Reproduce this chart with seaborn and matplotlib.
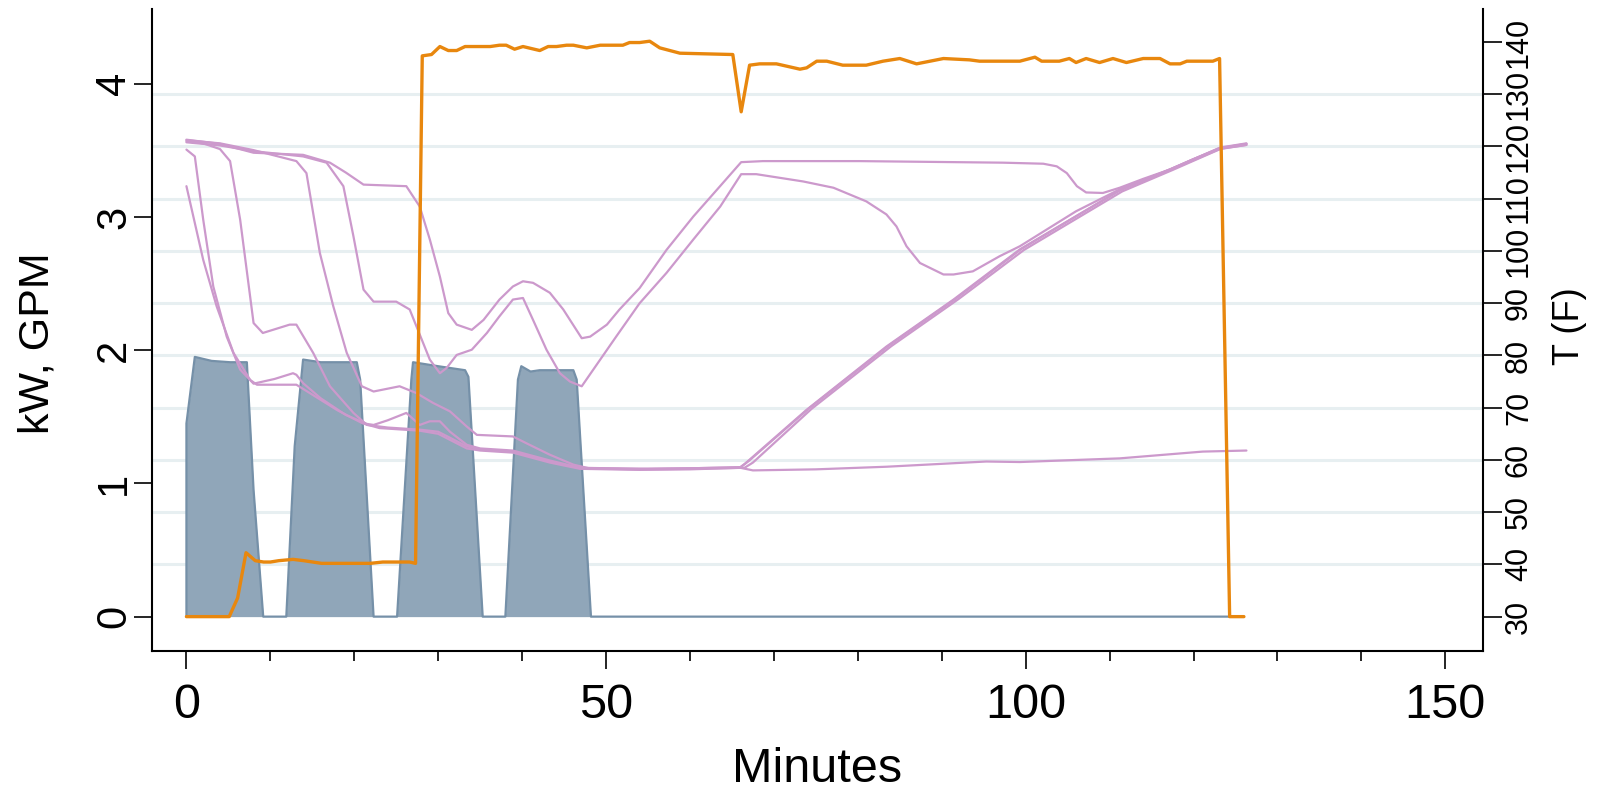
import numpy as np
import pandas as pd
import matplotlib
matplotlib.use("Agg")
import matplotlib.pyplot as plt
import matplotlib.transforms as mtransforms
from matplotlib.ticker import MultipleLocator, FixedLocator
import seaborn as sns

# ---- heater power (kW) - grey area, left axis
kw_min = [0, 0, 1.0, 3.0, 5.2, 7.2, 8.0, 9.15, 11.9, 12.9, 13.9, 16.0, 20.3, 20.7, 22.3,
          25.1, 26.8, 27.0, 30.0, 33.2, 33.6, 35.3, 38.0, 39.5, 39.9, 41.0, 42.1, 46.1,
          46.5, 48.2, 126.0]
kw_val = [0, 1.45, 1.95, 1.92, 1.91, 1.91, 0.95, 0, 0, 1.28, 1.93, 1.91, 1.91, 1.78, 0,
          0, 1.78, 1.91, 1.88, 1.85, 1.80, 0, 0, 1.78, 1.88, 1.84, 1.85, 1.85,
          1.78, 0, 0]

# ---- water flow (GPM) - orange line, left axis
flow_min = [0, 5.1, 6.1, 7.1, 8.2, 9.2, 10, 11, 12.7, 14, 16.1, 21.9, 23.4, 26.6, 27.3,
            28.1, 29.2, 30.2, 31.2, 32.2, 33.2, 36.2, 37.3, 38.1, 39.1, 40.1, 42.1, 43.1,
            44.1, 45.3, 46.1, 47.7, 49.3, 52.0, 52.8, 54.0, 55.2, 56.4, 58.8, 65.1, 66.1,
            67.1, 68.3, 70.3, 73.1, 73.9, 75.1, 76.3, 78.2, 81.0, 83.0, 85.0, 87.0, 90.2,
            93.3, 94.5, 99.3, 101.1, 101.9, 104.0, 105.2, 106.0, 107.2, 108.8, 110.4,
            112.0, 114.0, 116.0, 117.2, 118.4, 119.2, 122.3, 123.1, 124.3, 126.0]
flow_gpm = [0, 0, 0.14, 0.48, 0.42, 0.41, 0.41, 0.42, 0.43, 0.42, 0.40, 0.40, 0.41, 0.41, 0.40,
            4.21, 4.22, 4.28, 4.25, 4.25, 4.28, 4.28, 4.29, 4.29, 4.26, 4.28, 4.25, 4.28,
            4.28, 4.29, 4.29, 4.27, 4.29, 4.29, 4.31, 4.31, 4.32, 4.27, 4.23, 4.22, 3.79,
            4.14, 4.15, 4.15, 4.11, 4.12, 4.17, 4.17, 4.14, 4.14, 4.17, 4.19, 4.15, 4.19,
            4.18, 4.17, 4.17, 4.20, 4.17, 4.17, 4.19, 4.16, 4.19, 4.16, 4.19,
            4.16, 4.19, 4.19, 4.15, 4.15, 4.17, 4.17, 4.19, 0, 0]

# ---- tank temperatures (F) - purple lines, right axis
ta_min = [0, 4, 8, 13.9, 17.1, 19, 21.1, 26.2, 27.8, 29.0, 30.2, 31.2, 32.2, 34.0, 35.4,
          37.3, 38.9, 40.1, 41.3, 43.3, 44.9, 47.1, 48.1, 50.1, 51.6, 54.0, 57.2, 60.4,
          63.2, 66.1, 68.7, 80.2, 97.3, 102.1, 103.7, 104.9, 106.1, 107.2, 109.2, 111.2,
          114, 117.2, 120, 123.1, 126.3]
ta_f = [121.3, 120.5, 118.8, 118.4, 116.9, 115.0, 112.7, 112.4, 108.5, 102.2, 95.1, 88.1,
        85.9, 84.9, 86.8, 90.7, 93.2, 94.2, 93.9, 92.0, 88.8, 83.3, 83.6, 85.9, 88.8, 92.9,
        100.2, 106.6, 111.7, 117.0, 117.2, 117.2, 116.9, 116.7, 116.2, 114.9, 112.4, 111.2,
        111.1, 112.1, 113.8, 115.6, 117.6, 119.6, 120.5]

tb_min = [0, 4, 8, 13.9, 16.7, 18.7, 19.9, 21.1, 22.3, 25.0, 26.6, 27.8, 29.0, 30.2, 31.0,
          32.2, 34.0, 35.8, 37.3, 38.9, 40.1, 41.3, 42.9, 44.5, 45.7, 47.1, 49.3, 51.2,
          54.0, 57.2, 60.4, 63.6, 66.1, 67.9, 70.7, 73.5, 77.1, 81.0, 83.4, 84.6, 85.8,
          87.4, 90.2, 91.4, 93.7, 96.9, 99.3, 102, 106, 111.2, 117.2, 123.1, 126.3]
tb_f = [120.8, 120.2, 119.1, 118.1, 116.9, 112.4, 102.8, 92.6, 90.3, 90.3, 88.8, 84.0, 79.2,
        76.6, 77.6, 80.1, 81.1, 84.3, 87.5, 90.7, 91.0, 86.8, 81.1, 76.6, 75.0, 74.1, 79.2,
        83.6, 90.0, 95.8, 102.2, 108.5, 114.7, 114.7, 114.0, 113.3, 112.1, 109.5, 107.0,
        104.7, 100.9, 97.7, 95.5, 95.5, 96.1, 99.0, 100.9, 103.6, 107.6, 111.8, 115.5,
        119.5, 120.3]

tc_min = [0, 4, 8, 13.1, 14.3, 15.9, 17.5, 19.1, 20.9, 22.3, 25.4, 27.4, 29.4, 31.4, 33.4,
          34.6, 38.9, 40.5, 43.3, 46.1, 48, 55, 60, 66.0, 66.5, 73.9, 83.4, 91.4, 99.3,
          111.2, 117.2, 123.1, 126.3]
tc_f = [121.2, 120.6, 119.3, 117.2, 114.9, 99.6, 89.4, 80.5, 74.1, 73.1, 74.1, 72.8, 70.9,
        69.3, 66.4, 64.8, 64.5, 63.2, 61.0, 59.1, 58.4, 58.3, 58.4, 58.6, 59.2, 69.6, 81.7,
        90.7, 100.3, 111.6, 115.6, 119.7, 120.5]

td_min = [0, 2, 4.0, 5.2, 6.4, 8.0, 9.1, 12.3, 13.1, 15.1, 17.1, 19.9, 21.5, 24, 27.8, 30,
          33.4, 35, 38.9, 43.3, 46.9, 54, 60, 66.5, 67.5, 74.5, 84, 92, 99.8, 111.5, 117.5,
          123.3, 126.3]
td_f = [121.0, 120.6, 119.5, 117.2, 106.0, 86.2, 84.3, 85.9, 85.9, 80.5, 74.1, 69.0, 66.7,
        66.2, 65.8, 65.4, 62.6, 62.0, 61.6, 59.7, 58.4, 58.2, 58.3, 58.5, 59.5, 69.8, 81.8,
        90.8, 100.2, 111.4, 115.5, 119.6, 120.3]

te_min = [0, 1.0, 2.0, 3.2, 4.8, 6.4, 8.0, 10.5, 12.7, 13.1, 13.9, 16, 19, 21.5, 22.3, 24,
          26.2, 27.8, 29.0, 30.2, 31.4, 33.4, 35, 38.9, 43.3, 46.9, 54, 60, 66, 67.0, 74.2,
          83.7, 91.7, 99.5, 111.3, 117.3, 123.2, 126.3]
te_f = [119.4, 118.1, 106.0, 93.2, 83.6, 77.3, 74.6, 75.5, 76.6, 76.3, 74.7, 71.8, 68.6,
        66.9, 66.7, 67.6, 69.0, 66.7, 67.4, 67.4, 65.4, 62.9, 62.2, 61.8, 59.9, 58.5, 58.3,
        58.4, 58.6, 59.8, 69.9, 81.9, 90.9, 100.4, 111.7, 115.7, 119.8, 120.6]

tf_min = [0, 2.0, 3.6, 5.6, 7.6, 8.4, 13.1, 15, 18, 21, 23, 27.8, 30, 33.4, 35, 38.9, 43.3,
          46.9, 54, 60, 66, 67.5, 75, 83.4, 95.3, 99.3, 111.2, 121.1, 126.3]
tf_f = [112.4, 98.3, 89.4, 80.5, 75.3, 74.4, 74.4, 72.5, 69.5, 67.0, 66.1, 65.6, 65.0, 62.2,
        61.8, 61.4, 59.5, 58.3, 58.1, 58.2, 58.5, 58.0, 58.2, 58.7, 59.7, 59.6, 60.3, 61.6,
        61.8]

x_ticks = [0, 50, 100, 150]
kw_ticks = [0, 1, 2, 3, 4]
temp_ticks = [30, 40, 50, 60, 70, 80, 90, 100, 110, 120, 130, 140]
grid_temps = [40, 50, 60, 70, 80, 90, 100, 110, 120, 130]

sensors = {"a": (ta_min, ta_f), "b": (tb_min, tb_f), "c": (tc_min, tc_f),
           "d": (td_min, td_f), "e": (te_min, te_f), "f": (tf_min, tf_f)}
temps = pd.concat([pd.DataFrame({"minute": m, "temp": t, "sensor": k})
                   for k, (m, t) in sensors.items()], ignore_index=True)

GREY = "#90a6b9"
GREY_EDGE = "#7590a8"
ORANGE = "#e8870e"
PURPLE = "#cc99cc"
GRID = "#e7eff1"

sns.set_theme(style="ticks", rc={"text.color": "black", "axes.labelcolor": "black",
                                 "xtick.color": "black", "ytick.color": "black"})
plt.rcParams["font.family"] = ["Liberation Sans", "DejaVu Sans"]

fig = plt.figure(figsize=(16.07, 7.94), dpi=100)
ax = fig.add_axes([0.0946, 0.1801, 0.8283, 0.8086])
ax2 = ax.twinx()

ax.set_xlim(-4.1, 154.5)
ax.set_ylim(-0.258, 4.562)
ax2.set_ylim(23.43, 146.32)

# grid at the temperature ticks, drawn under everything
gtrans = mtransforms.blended_transform_factory(ax.transAxes, ax2.transData)
for g in grid_temps:
    ax.plot([0, 1], [g, g], transform=gtrans, color=GRID, lw=2.2, zorder=0.5)

ax.fill_between(kw_min, kw_val, 0, color=GREY, lw=0, zorder=1)
ax.plot(kw_min, kw_val, color=GREY_EDGE, lw=1.6, zorder=1.2)

sns.lineplot(data=temps, x="minute", y="temp", units="sensor", estimator=None,
             sort=False, color=PURPLE, lw=1.6, ax=ax, legend=False,
             transform=ax2.transData, zorder=2)

sns.lineplot(x=flow_min, y=flow_gpm, estimator=None, sort=False, color=ORANGE,
             lw=2.4, ax=ax, zorder=3)

ax.set_xlim(-4.1, 154.5)
ax.set_ylim(-0.258, 4.562)
ax2.set_ylim(23.43, 146.32)

# spines
for s in ["top", "right"]:
    ax.spines[s].set_visible(False)
for s in ["top", "left", "bottom"]:
    ax2.spines[s].set_visible(False)
for s in ["left", "bottom"]:
    ax.spines[s].set_linewidth(1.5)
    ax.spines[s].set_color("black")
ax2.spines["right"].set_linewidth(1.5)
ax2.spines["right"].set_color("black")

# x axis
ax.xaxis.set_major_locator(FixedLocator(x_ticks))
ax.xaxis.set_minor_locator(MultipleLocator(10))
ax.set_xticklabels([str(v) for v in x_ticks], fontsize=35)
ax.tick_params(axis="x", which="major", length=13, width=1.2, color="black", pad=10,
               direction="out", bottom=True)
ax.tick_params(axis="x", which="minor", length=7.5, width=1.2, color="black",
               direction="out", bottom=True)
ax.set_xlabel("Minutes", fontsize=35)
ax.xaxis.set_label_coords(0.5, -0.15)
ax.xaxis.label.set_va("top")

# left axis
ax.set_yticks(kw_ticks)
ax.set_yticklabels([str(v) for v in kw_ticks], rotation=90, va="center", fontsize=30)
ax.tick_params(axis="y", length=13, width=1.2, color="black", pad=0, direction="out",
               left=True)
ax.set_ylabel("kW, GPM", fontsize=31)
ax.yaxis.set_label_coords(-0.071, 0.479)

# right axis
ax2.set_yticks(temp_ticks)
ax2.set_yticklabels([str(v) for v in temp_ticks], rotation=90, va="center", fontsize=22)
ax2.tick_params(axis="y", length=14, width=1.2, color="black", pad=1, direction="out",
                right=True)
ax2.set_ylabel("T (F)", fontsize=26, rotation=90)
ax2.yaxis.set_label_coords(1.052, 0.506)
ax2.grid(False)
ax.grid(False)

fig.savefig("out.png", dpi=100)
